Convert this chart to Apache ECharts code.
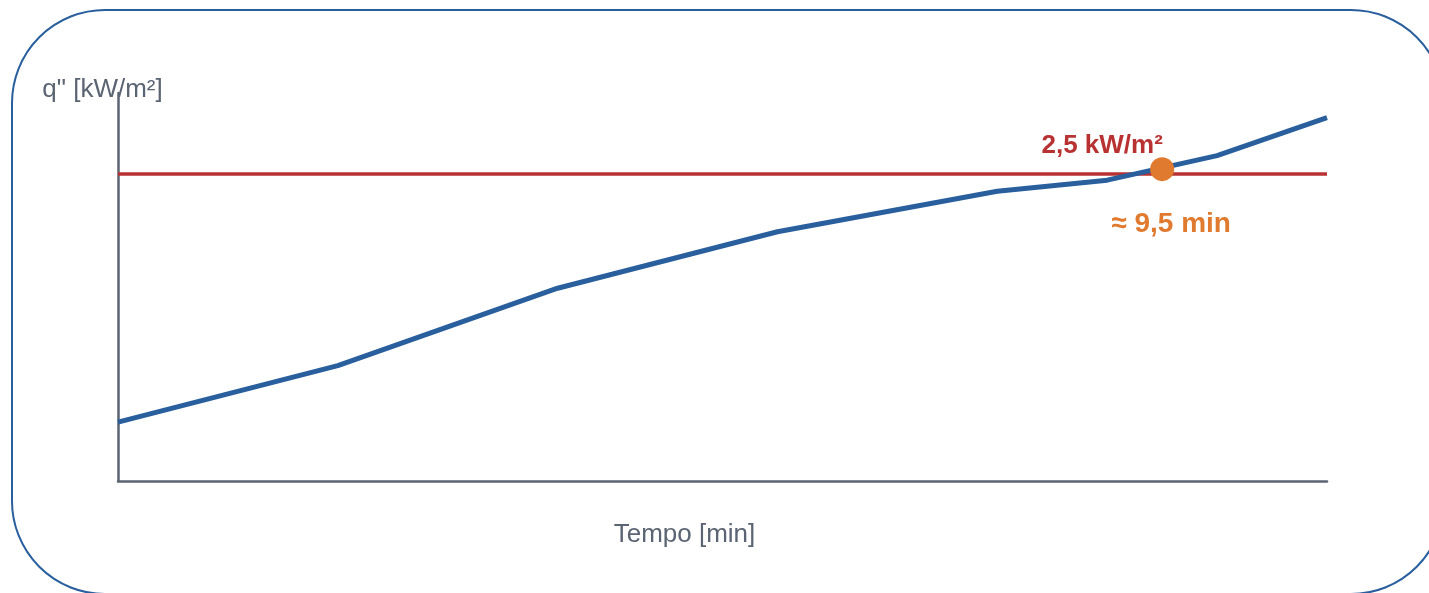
<!DOCTYPE html>
<html>
<head>
<meta charset="utf-8">
<script src="https://cdn.jsdelivr.net/npm/echarts@6/dist/echarts.min.js"></script>
<style>
html,body{margin:0;padding:0;background:#fff;}
#chart{width:1429px;height:593px;}
</style>
</head>
<body>
<div id="chart"></div>
<script>
// Data
var timeMin = [0, 2, 4, 6, 8, 9, 10, 11];
var heatFlux = [0.48, 0.94, 1.57, 2.03, 2.36, 2.45, 2.65, 2.96];
var thresholdTime = [0, 11];
var thresholdValue = [2.5, 2.5];
var crossingPoint = [9.5, 2.54];
var crossingLabel = '≈ 9,5 min';
var thresholdLabel = '2,5 kW/m²';
var xName = 'Tempo [min]';
var yName = 'q" [kW/m²]';

var blue = '#2a5f9e', red = '#b83232', orange = '#e07a2e', gray = '#5b6472';
var fontFam = '"Liberation Sans", Arial, Helvetica, sans-serif';

var chart = echarts.init(document.getElementById('chart'), null, {renderer: 'canvas'});
chart.setOption({
  animation: false,
  backgroundColor: '#ffffff',
  grid: {left: 118, right: 102, top: 93, bottom: 112, containLabel: false},
  graphic: [{
    type: 'rect', z: -1, silent: true,
    shape: {x: 12, y: 10, width: 1432, height: 584, r: 93},
    style: {fill: 'none', stroke: blue, lineWidth: 2}
  }],
  xAxis: {
    type: 'value', min: 0, max: 11,
    name: xName, nameLocation: 'middle', nameGap: 40,
    nameTextStyle: {color: gray, fontSize: 26, fontFamily: fontFam, lineHeight: 28, padding: [0, 76, 0, 0]},
    axisLine: {show: true, onZero: false, lineStyle: {color: gray, width: 2.5}},
    axisTick: {show: false}, axisLabel: {show: false}, splitLine: {show: false}
  },
  yAxis: {
    type: 'value', min: 0, max: 3.16,
    name: yName, nameLocation: 'end', nameGap: -10,
    nameTextStyle: {color: gray, fontSize: 26, fontFamily: fontFam, lineHeight: 26, padding: [0, 31, 0, 0]},
    axisLine: {show: true, onZero: false, lineStyle: {color: gray, width: 2.5}},
    axisTick: {show: false}, axisLabel: {show: false}, splitLine: {show: false}
  },
  series: [{
    type: 'line', name: 'Soglia',
    data: thresholdTime.map(function (t, i) { return [t, thresholdValue[i]]; }),
    symbol: 'none', lineStyle: {color: red, width: 3.5}, z: 2
  }, {
    type: 'line', name: 'q"',
    data: timeMin.map(function (t, i) { return [t, heatFlux[i]]; }),
    symbol: 'none', lineStyle: {color: blue, width: 5}, z: 3
  }, {
    type: 'scatter', name: 'crossing',
    data: [crossingPoint],
    symbol: 'circle', symbolSize: 24,
    itemStyle: {color: orange, opacity: 1},
    label: {show: true, position: 'inside', offset: [9, 55], formatter: crossingLabel, opacity: 1,
      color: orange, fontSize: 28, fontWeight: 'bold', fontFamily: fontFam},
    emphasis: {disabled: true},
    z: 5
  }, {
    type: 'scatter', name: 'thresholdLabel',
    data: [crossingPoint],
    symbol: 'circle', symbolSize: 0,
    itemStyle: {color: red, opacity: 1},
    label: {show: true, position: 'inside', offset: [-60, -23], formatter: thresholdLabel, opacity: 1,
      color: red, fontSize: 26, fontWeight: 'bold', fontFamily: fontFam},
    emphasis: {disabled: true},
    z: 6
  }]
});
</script>
</body>
</html>
